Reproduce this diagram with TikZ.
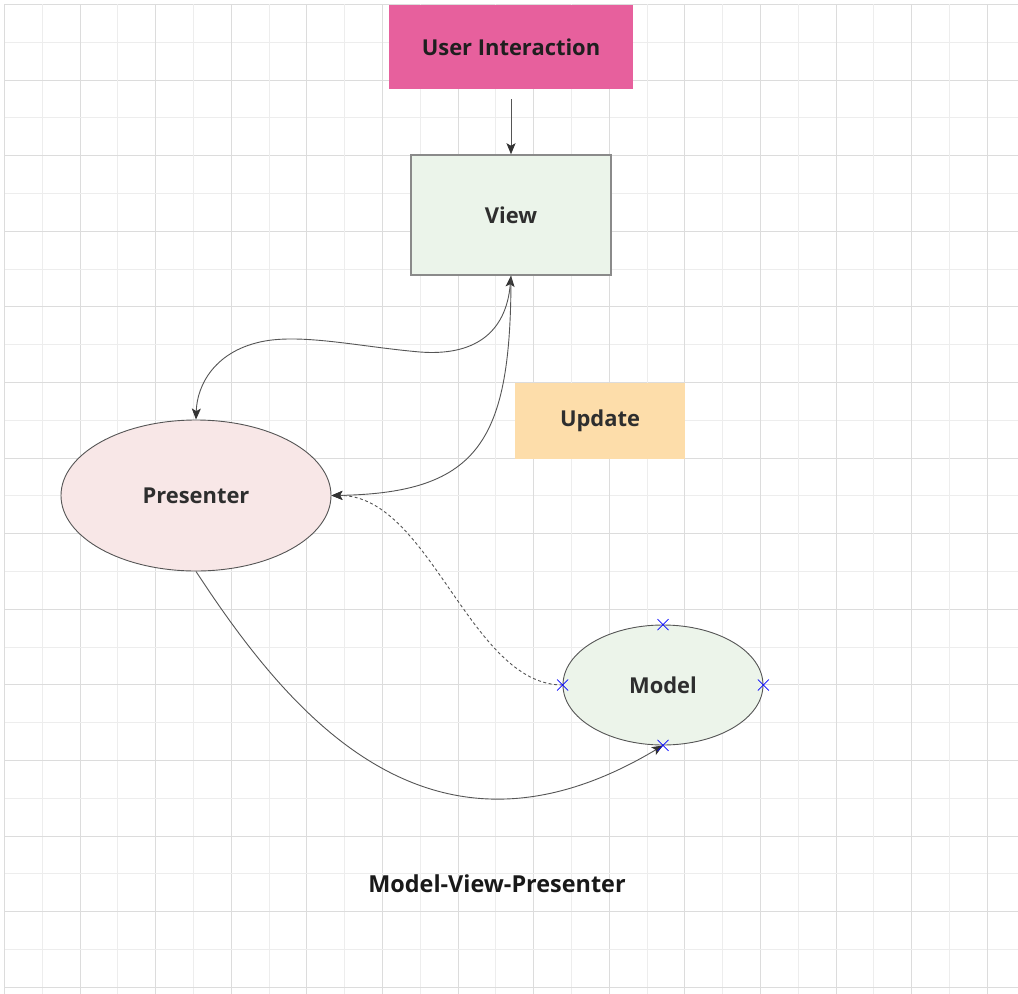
\documentclass[tikz,border=0pt]{standalone}
\usepackage{fontspec}
\newfontfamily\lbl{Open Sans}
\usetikzlibrary{shapes.geometric,arrows.meta,calc}
\definecolor{gridmaj}{HTML}{DCDCDC}
\definecolor{gridmin}{HTML}{EDEDED}
\definecolor{uipink}{HTML}{E7609D}
\definecolor{viewfill}{HTML}{EBF4EA}
\definecolor{viewline}{HTML}{8A8A8A}
\definecolor{updfill}{HTML}{FDDDAA}
\definecolor{presfill}{HTML}{F8E7E7}
\definecolor{modfill}{HTML}{ECF4EA}
\definecolor{edge}{HTML}{555555}
\definecolor{tipc}{HTML}{333333}
\definecolor{txt}{HTML}{2E2E2E}
\tikzset{
  lbltext/.style={font=\lbl\bfseries\fontsize{22}{26}\selectfont, text=txt},
  boxnode/.style={rectangle, inner sep=0pt, lbltext},
  ellnode/.style={ellipse, inner sep=0pt, draw=edge, line width=0.9bp, lbltext},
  >={Stealth[length=11bp,width=9bp,inset=2.5bp,color=tipc]},
  conn/.style={draw=edge, line width=0.9bp},
  xmark/.style={draw=blue, line width=0.7bp}
}
\begin{document}
\begin{tikzpicture}[x=1bp,y=-1bp]
\useasboundingbox (0,0) rectangle (1018,994);
\fill[white] (0,0) rectangle (1018,994);
% grid
\foreach \k in {0,...,26}{
  \pgfmathsetmacro{\p}{4.3+37.8*\k}
  \pgfmathtruncatemacro{\odd}{mod(\k,2)}
  \ifnum\odd=1
    \draw[gridmin, line width=0.8bp] (\p,4.3) -- (\p,994);
    \draw[gridmin, line width=0.8bp] (5,\p) -- (1018,\p);
  \else
    \draw[gridmaj, line width=0.8bp] (\p,4.3) -- (\p,994);
    \draw[gridmaj, line width=0.8bp] (5,\p) -- (1018,\p);
  \fi
}
% nodes
\node[boxnode, fill=uipink, minimum width=244bp, minimum height=83.5bp, text=black!88] (ui) at (511,47) {User Interaction};
\node[boxnode, fill=viewfill, draw=viewline, line width=1.5bp, minimum width=200bp, minimum height=120bp] (view) at (511,215) {View};
\node[boxnode, fill=updfill, minimum width=170bp, minimum height=76bp] (upd) at (600,421) {Update};
\node[ellnode, fill=presfill, minimum width=270bp, minimum height=151bp] (pres) at (196,495.5) {Presenter};
\node[ellnode, fill=modfill, minimum width=200bp, minimum height=120bp] (model) at (663,685) {Model};
\node[lbltext, font=\lbl\bfseries\fontsize{23.5}{27}\selectfont, text=black!90, inner sep=0pt] (title) at (497,884) {Model-View-Presenter};
% connectors
\draw[conn, ->, shorten <=10.5bp] (ui.south) -- (view.north);
\draw[conn, <->] (view.south) .. controls (506,335) and (472,356) .. (420,352)
  .. controls (362,347) and (305,334) .. (265,341)
  .. controls (215,350) and (197,385) .. (pres.north);
\draw[conn, ->] (view.south) .. controls (511,440) and (480,493) .. (pres.east);
\draw[conn, dash pattern=on 3bp off 2.5bp, ->] (model.west) .. controls (470,685) and (430,495) .. (pres.east);
\draw[conn, ->] (pres.south) .. controls (290,715) and (430,885) .. (model.south);
% blue markers
\foreach \a in {north,south,east,west}{
  \draw[xmark] ($(model.\a)+(-5.5,-5.5)$) -- ++(11,11);
  \draw[xmark] ($(model.\a)+(-5.5,5.5)$) -- ++(11,-11);
}
\end{tikzpicture}
\end{document}
